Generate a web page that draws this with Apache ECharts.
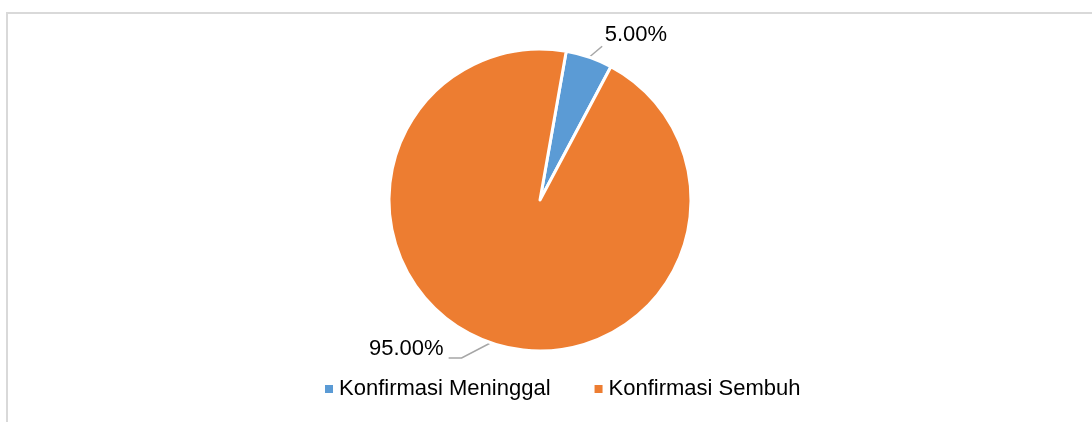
<!DOCTYPE html>
<html>
<head>
<meta charset="utf-8">
<script src="https://cdn.jsdelivr.net/npm/echarts@6/dist/echarts.min.js"></script>
<style>
  html, body { margin: 0; padding: 0; background: #fff; }
  #frame {
    position: absolute; left: 6px; top: 12px; width: 1100px; height: 420px;
    border-left: 2px solid #d9d9d9; border-top: 2px solid #d9d9d9;
  }
  #chart { position: absolute; left: 0; top: 0; width: 1092px; height: 422px; }
</style>
</head>
<body>
<div id="frame"></div>
<div id="chart"></div>
<script>
// data
var categories = ['Konfirmasi Meninggal', 'Konfirmasi Sembuh'];
var values = [5, 95];
var colors = ['#5b9bd5', '#ed7d31'];

var chart = echarts.init(document.getElementById('chart'));

// callout tweaks, Excel style (relative offsets only)
var lineStyles = [
  { length: 14, length2: 0 },
  { length: 16, length2: 37 }
];
var labelShift = [[6, -9], [0, -9]];

var option = {
  backgroundColor: 'transparent',
  animation: false,
  legend: {
    left: 318,
    top: 373,
    icon: 'rect',
    itemWidth: 10,
    itemHeight: 10,
    itemGap: 42,
    textStyle: {
      fontFamily: 'Liberation Sans, Arial, sans-serif',
      fontSize: 22,
      color: '#000'
    },
    data: categories
  },
  series: [
    {
      type: 'pie',
      center: [540, 200],
      radius: 151,
      startAngle: 80,
      clockwise: true,
      avoidLabelOverlap: false,
      itemStyle: {
        borderColor: '#fff',
        borderWidth: 3
      },
      label: {
        show: true,
        position: 'outside',
        fontFamily: 'Liberation Sans, Arial, sans-serif',
        fontSize: 22,
        color: '#000',
        formatter: function (p) {
          return p.percent.toFixed(2) + '%';
        }
      },
      labelLine: {
        show: true,
        lineStyle: { color: '#a6a6a6', width: 1.5 }
      },
      labelLayout: function (p) {
        var pts = p.labelLinePoints;
        var res = { dx: labelShift[p.dataIndex][0], dy: labelShift[p.dataIndex][1] };
        if (pts) {
          pts = pts.map(function (q) { return q.slice(); });
          if (p.dataIndex === 0) {
            pts[1] = [pts[0][0] + 13, pts[0][1] - 11];
            pts[2] = pts[1].slice();
          } else {
            pts[1] = [pts[1][0] - 24, pts[1][1]];
          }
          res.labelLinePoints = pts;
        }
        return res;
      },
      emphasis: { disabled: true },
      data: categories.map(function (name, i) {
        return {
          name: name,
          value: values[i],
          itemStyle: { color: colors[i] },
          labelLine: lineStyles[i]
        };
      })
    }
  ]
};

chart.setOption(option);
</script>
</body>
</html>
